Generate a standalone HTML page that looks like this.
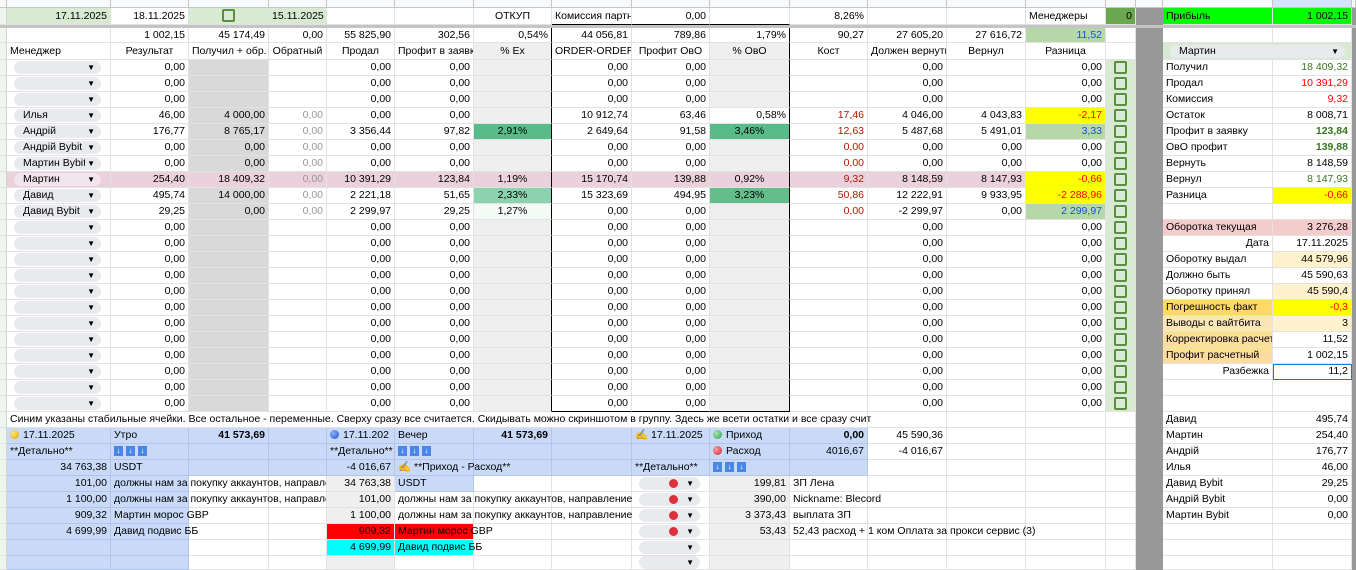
<!DOCTYPE html>
<html><head><meta charset="utf-8"><style>
*{box-sizing:border-box}
body{margin:0;width:1356px;height:564px;overflow:hidden;background:#fff;font-family:"Liberation Sans",Arial,sans-serif;font-size:10.5px;color:#000}
table{border-collapse:separate;border-spacing:0;table-layout:fixed;width:1356px}
td{border-right:1px solid #e2e2e2;border-bottom:1px solid #e2e2e2;padding:0 3px;white-space:nowrap;overflow:hidden;text-align:right;line-height:13px;position:relative}
tr.h td{height:16px}
td.ov{overflow:visible}
.ov>span.t,.t{position:relative;z-index:2}
.l{text-align:left}.c{text-align:center}
.g0{background:#eef5ee;border-right:1px solid #cfd8cf}
.g{background:#d9d9d9}.e{background:#efefef}.lg{background:#d9ead3}.pk{background:#ead1dc}
.b{background:#c9daf8;border-color:#b3c6ea}.y{background:#ffff00}.gg{background:#b6d7a8}
.gr{background:#999;border-color:#999}
.br{border-right:1px solid #000}.bb{border-bottom:1px solid #000}
.gy{color:#999}.rd{color:#a61c00}.red{color:#ff0000}.bl{color:#1155cc}.gn{color:#38761d}
.bold{font-weight:bold}
.ch{background:#e8eaed;border-radius:7px;height:13px;line-height:13px;margin:0 6px 0 4px;padding-left:9px;position:relative;text-align:left}
.ch i{position:absolute;right:6px;top:0;font-style:normal;font-size:8px;background:#e8eaed;padding-left:2px}
.pk .ch{background:#f1e4ea}.pk .ch i{background:#f1e4ea}
.cb{display:inline-block;width:13px;height:13px;border:2px solid #5b8f3f;border-radius:2px;vertical-align:middle}
.dot{display:inline-block;width:9px;height:9px;border-radius:50%;vertical-align:-1px;margin-right:4px}
.ar{display:inline-block;width:9px;height:10px;background:#4a86e8;color:#fff;font-size:8px;line-height:10px;text-align:center;margin-right:3px;vertical-align:middle}
.hd td{background:#f8f9fa;border-color:#c6c6c6}
.sep td{background:#c4c4c4;border:0;height:3px;font-size:0;line-height:0}
.or{background:#f9cb9c}.cr{background:#fff2cc}.pn{background:#f4cccc}
</style></head><body>
<table>
<colgroup><col style="width:7px"><col style="width:104px"><col style="width:78px"><col style="width:80px"><col style="width:58px"><col style="width:68px"><col style="width:79px"><col style="width:78px"><col style="width:80px"><col style="width:78px"><col style="width:80px"><col style="width:78px"><col style="width:79px"><col style="width:79px"><col style="width:80px"><col style="width:30px"><col style="width:27px"><col style="width:110px"><col style="width:79px"><col style="width:4px"></colgroup>
<tr class="hd" style="height:8px"><td></td><td></td><td></td><td></td><td></td><td></td><td></td><td></td><td></td><td></td><td></td><td></td><td></td><td></td><td></td><td></td><td></td><td></td><td style="background:#d3e3fd"></td><td></td></tr>
<tr style="height:17px"><td class="g0"></td><td class="lg">17.11.2025</td><td>18.11.2025</td><td class="lg c"><span class="cb"></span></td><td class="lg l">15.11.2025</td><td></td><td></td><td class="c">ОТКУП</td><td class="l bb">Комиссия партн</td><td class="bb">0,00</td><td class="bb"></td><td>8,26%</td><td></td><td></td><td class="l">Менеджеры</td><td style="background:#6aa84f">0</td><td class="gr"></td><td class="l" style="background:#00ff00">Прибыль</td><td style="background:#00ff00">1 002,15</td><td class="gr"></td></tr>
<tr class="sep"><td></td><td></td><td></td><td></td><td></td><td></td><td></td><td></td><td></td><td></td><td></td><td></td><td></td><td></td><td></td><td></td><td></td><td></td><td></td><td></td></tr>
<tr style="height:15px"><td class="g0"></td><td></td><td>1 002,15</td><td>45 174,49</td><td>0,00</td><td>55 825,90</td><td>302,56</td><td class="br">0,54%</td><td>44 056,81</td><td>789,86</td><td class="br">1,79%</td><td>90,27</td><td>27 605,20</td><td>27 616,72</td><td class="gg bl">11,52</td><td></td><td class="gr"></td><td></td><td></td><td class="gr"></td></tr>
<tr style="height:17px"><td class="g0"></td><td class="l">Менеджер</td><td class="c">Результат</td><td class="c">Получил + обр.</td><td class="c">Обратный</td><td class="c">Продал</td><td class="c">Профит в заявку</td><td class="c e br">% Ex</td><td class="c">ORDER-ORDER</td><td class="c">Профит ОвО</td><td class="c e br">% ОвО</td><td class="c">Кост</td><td class="c">Должен вернуть</td><td class="c">Вернул</td><td class="c">Разница</td><td></td><td class="gr"></td><td class="lg ov" style="padding:0 0 0 7px;border-right:0"><div class="ch t" style="width:175px;margin:0">Мартин<i>▼</i></div></td><td class="lg"></td><td class="gr"></td></tr>
<!-- data rows -->
<tr class="h"><td class="g0"></td><td><div class="ch"><i>▼</i></div></td><td>0,00</td><td class="g"></td><td></td><td>0,00</td><td>0,00</td><td class="e br"></td><td>0,00</td><td>0,00</td><td class="e br"></td><td></td><td>0,00</td><td></td><td>0,00</td><td class="lg c"><span class="cb"></span></td><td class="gr"></td><td class="l">Получил</td><td class="gn">18 409,32</td><td class="gr"></td></tr>
<tr class="h"><td class="g0"></td><td><div class="ch"><i>▼</i></div></td><td>0,00</td><td class="g"></td><td></td><td>0,00</td><td>0,00</td><td class="e br"></td><td>0,00</td><td>0,00</td><td class="e br"></td><td></td><td>0,00</td><td></td><td>0,00</td><td class="lg c"><span class="cb"></span></td><td class="gr"></td><td class="l">Продал</td><td class="red">10 391,29</td><td class="gr"></td></tr>
<tr class="h"><td class="g0"></td><td><div class="ch"><i>▼</i></div></td><td>0,00</td><td class="g"></td><td></td><td>0,00</td><td>0,00</td><td class="e br"></td><td>0,00</td><td>0,00</td><td class="e br"></td><td></td><td>0,00</td><td></td><td>0,00</td><td class="lg c"><span class="cb"></span></td><td class="gr"></td><td class="l">Комиссия</td><td class="red">9,32</td><td class="gr"></td></tr>
<tr class="h"><td class="g0"></td><td><div class="ch">Илья<i>▼</i></div></td><td>46,00</td><td class="g">4 000,00</td><td class="gy">0,00</td><td>0,00</td><td>0,00</td><td class="e br"></td><td>10 912,74</td><td>63,46</td><td class="br">0,58%</td><td class="rd">17,46</td><td>4 046,00</td><td>4 043,83</td><td class="y red">-2,17</td><td class="lg c"><span class="cb"></span></td><td class="gr"></td><td class="l">Остаток</td><td>8 008,71</td><td class="gr"></td></tr>
<tr class="h"><td class="g0"></td><td><div class="ch">Андрій<i>▼</i></div></td><td>176,77</td><td class="g">8 765,17</td><td class="gy">0,00</td><td>3 356,44</td><td>97,82</td><td class="c br" style="background:#57bb8a">2,91%</td><td>2 649,64</td><td>91,58</td><td class="c br" style="background:#57bb8a">3,46%</td><td class="rd">12,63</td><td>5 487,68</td><td>5 491,01</td><td class="gg bl">3,33</td><td class="lg c"><span class="cb"></span></td><td class="gr"></td><td class="l">Профит в заявку</td><td class="gn bold">123,84</td><td class="gr"></td></tr>
<tr class="h"><td class="g0"></td><td><div class="ch">Андрій Bybit<i>▼</i></div></td><td>0,00</td><td class="g">0,00</td><td class="gy">0,00</td><td>0,00</td><td>0,00</td><td class="e br"></td><td>0,00</td><td>0,00</td><td class="e br"></td><td class="rd">0,00</td><td>0,00</td><td>0,00</td><td>0,00</td><td class="lg c"><span class="cb"></span></td><td class="gr"></td><td class="l">ОвО профит</td><td class="gn bold">139,88</td><td class="gr"></td></tr>
<tr class="h"><td class="g0"></td><td><div class="ch">Мартин Bybit<i>▼</i></div></td><td>0,00</td><td class="g">0,00</td><td class="gy">0,00</td><td>0,00</td><td>0,00</td><td class="e br"></td><td>0,00</td><td>0,00</td><td class="e br"></td><td class="rd">0,00</td><td>0,00</td><td>0,00</td><td>0,00</td><td class="lg c"><span class="cb"></span></td><td class="gr"></td><td class="l">Вернуть</td><td>8 148,59</td><td class="gr"></td></tr>
<tr class="h"><td class="g0"></td><td class="pk"><div class="ch">Мартин<i>▼</i></div></td><td class="pk">254,40</td><td class="pk">18 409,32</td><td class="pk gy">0,00</td><td class="pk">10 391,29</td><td class="pk">123,84</td><td class="pk c br">1,19%</td><td class="pk">15 170,74</td><td class="pk">139,88</td><td class="pk c br">0,92%</td><td class="pk rd">9,32</td><td class="pk">8 148,59</td><td class="pk">8 147,93</td><td class="y red">-0,66</td><td class="lg c"><span class="cb"></span></td><td class="gr"></td><td class="l">Вернул</td><td class="gn">8 147,93</td><td class="gr"></td></tr>
<tr class="h"><td class="g0"></td><td><div class="ch">Давид<i>▼</i></div></td><td>495,74</td><td class="g">14 000,00</td><td class="gy">0,00</td><td>2 221,18</td><td>51,65</td><td class="c br" style="background:#8dd2ae">2,33%</td><td>15 323,69</td><td>494,95</td><td class="c br" style="background:#63be8b">3,23%</td><td class="rd">50,86</td><td>12 222,91</td><td>9 933,95</td><td class="y red">-2 288,96</td><td class="lg c"><span class="cb"></span></td><td class="gr"></td><td class="l">Разница</td><td class="y red">-0,66</td><td class="gr"></td></tr>
<tr class="h"><td class="g0"></td><td><div class="ch">Давид Bybit<i>▼</i></div></td><td>29,25</td><td class="g">0,00</td><td class="gy">0,00</td><td>2 299,97</td><td>29,25</td><td class="c br" style="background:#f4faf6">1,27%</td><td>0,00</td><td>0,00</td><td class="e br"></td><td class="rd">0,00</td><td>-2 299,97</td><td>0,00</td><td class="gg bl">2 299,97</td><td class="lg c"><span class="cb"></span></td><td class="gr"></td><td></td><td></td><td class="gr"></td></tr>
<tr class="h"><td class="g0"></td><td><div class="ch"><i>▼</i></div></td><td>0,00</td><td class="g"></td><td></td><td>0,00</td><td>0,00</td><td class="e br"></td><td>0,00</td><td>0,00</td><td class="e br"></td><td></td><td>0,00</td><td></td><td>0,00</td><td class="lg c"><span class="cb"></span></td><td class="gr"></td><td class="l pn">Оборотка текущая</td><td class="pn">3 276,28</td><td class="gr"></td></tr>
<tr class="h"><td class="g0"></td><td><div class="ch"><i>▼</i></div></td><td>0,00</td><td class="g"></td><td></td><td>0,00</td><td>0,00</td><td class="e br"></td><td>0,00</td><td>0,00</td><td class="e br"></td><td></td><td>0,00</td><td></td><td>0,00</td><td class="lg c"><span class="cb"></span></td><td class="gr"></td><td>Дата</td><td>17.11.2025</td><td class="gr"></td></tr>
<tr class="h"><td class="g0"></td><td><div class="ch"><i>▼</i></div></td><td>0,00</td><td class="g"></td><td></td><td>0,00</td><td>0,00</td><td class="e br"></td><td>0,00</td><td>0,00</td><td class="e br"></td><td></td><td>0,00</td><td></td><td>0,00</td><td class="lg c"><span class="cb"></span></td><td class="gr"></td><td class="l">Оборотку выдал</td><td class="cr">44 579,96</td><td class="gr"></td></tr>
<tr class="h"><td class="g0"></td><td><div class="ch"><i>▼</i></div></td><td>0,00</td><td class="g"></td><td></td><td>0,00</td><td>0,00</td><td class="e br"></td><td>0,00</td><td>0,00</td><td class="e br"></td><td></td><td>0,00</td><td></td><td>0,00</td><td class="lg c"><span class="cb"></span></td><td class="gr"></td><td class="l">Должно быть</td><td>45 590,63</td><td class="gr"></td></tr>
<tr class="h"><td class="g0"></td><td><div class="ch"><i>▼</i></div></td><td>0,00</td><td class="g"></td><td></td><td>0,00</td><td>0,00</td><td class="e br"></td><td>0,00</td><td>0,00</td><td class="e br"></td><td></td><td>0,00</td><td></td><td>0,00</td><td class="lg c"><span class="cb"></span></td><td class="gr"></td><td class="l">Оборотку принял</td><td class="cr">45 590,4</td><td class="gr"></td></tr>
<tr class="h"><td class="g0"></td><td><div class="ch"><i>▼</i></div></td><td>0,00</td><td class="g"></td><td></td><td>0,00</td><td>0,00</td><td class="e br"></td><td>0,00</td><td>0,00</td><td class="e br"></td><td></td><td>0,00</td><td></td><td>0,00</td><td class="lg c"><span class="cb"></span></td><td class="gr"></td><td class="l" style="background:#ffd966">Погрешность факт</td><td class="y red">-0,3</td><td class="gr"></td></tr>
<tr class="h"><td class="g0"></td><td><div class="ch"><i>▼</i></div></td><td>0,00</td><td class="g"></td><td></td><td>0,00</td><td>0,00</td><td class="e br"></td><td>0,00</td><td>0,00</td><td class="e br"></td><td></td><td>0,00</td><td></td><td>0,00</td><td class="lg c"><span class="cb"></span></td><td class="gr"></td><td class="l" style="background:#fce5b8">Выводы с вайтбита</td><td class="cr">3</td><td class="gr"></td></tr>
<tr class="h"><td class="g0"></td><td><div class="ch"><i>▼</i></div></td><td>0,00</td><td class="g"></td><td></td><td>0,00</td><td>0,00</td><td class="e br"></td><td>0,00</td><td>0,00</td><td class="e br"></td><td></td><td>0,00</td><td></td><td>0,00</td><td class="lg c"><span class="cb"></span></td><td class="gr"></td><td class="l" style="background:#fcdca0">Корректировка расчет</td><td>11,52</td><td class="gr"></td></tr>
<tr class="h"><td class="g0"></td><td><div class="ch"><i>▼</i></div></td><td>0,00</td><td class="g"></td><td></td><td>0,00</td><td>0,00</td><td class="e br"></td><td>0,00</td><td>0,00</td><td class="e br"></td><td></td><td>0,00</td><td></td><td>0,00</td><td class="lg c"><span class="cb"></span></td><td class="gr"></td><td class="l" style="background:#fcdca0">Профит расчетный</td><td>1 002,15</td><td class="gr"></td></tr>
<tr class="h"><td class="g0"></td><td><div class="ch"><i>▼</i></div></td><td>0,00</td><td class="g"></td><td></td><td>0,00</td><td>0,00</td><td class="e br"></td><td>0,00</td><td>0,00</td><td class="e br"></td><td></td><td>0,00</td><td></td><td>0,00</td><td class="lg c"><span class="cb"></span></td><td class="gr"></td><td>Разбежка</td><td style="outline:1px solid #1a73e8;outline-offset:-1px">11,2</td><td class="gr"></td></tr>
<tr class="h"><td class="g0"></td><td><div class="ch"><i>▼</i></div></td><td>0,00</td><td class="g"></td><td></td><td>0,00</td><td>0,00</td><td class="e br"></td><td>0,00</td><td>0,00</td><td class="e br"></td><td></td><td>0,00</td><td></td><td>0,00</td><td class="lg c"><span class="cb"></span></td><td class="gr"></td><td></td><td></td><td class="gr"></td></tr>
<tr class="h"><td class="g0"></td><td><div class="ch"><i>▼</i></div></td><td>0,00</td><td class="g"></td><td></td><td>0,00</td><td>0,00</td><td class="e br"></td><td class="bb">0,00</td><td class="bb">0,00</td><td class="e br bb"></td><td></td><td>0,00</td><td></td><td>0,00</td><td class="lg c"><span class="cb"></span></td><td class="gr"></td><td></td><td></td><td class="gr"></td></tr>
<!-- note row -->
<tr class="h"><td class="g0"></td><td class="l ov" style="border-right:0"><span class="t">Синим указаны стабильные ячейки. Все остальное - переменные. Сверху сразу все считается. Скидывать можно скриншотом в группу. Здесь же всети остатки и все сразу счит</span></td><td style="border-right:0"></td><td style="border-right:0"></td><td style="border-right:0"></td><td style="border-right:0"></td><td style="border-right:0"></td><td style="border-right:0"></td><td style="border-right:0"></td><td style="border-right:0"></td><td style="border-right:0"></td><td></td><td></td><td></td><td></td><td></td><td class="gr"></td><td class="l">Давид</td><td>495,74</td><td class="gr"></td></tr>
<!-- lower -->
<tr class="h"><td class="g0"></td><td class="b l"><span class="dot" style="background:radial-gradient(circle at 35% 35%,#ffe680,#e0a800)"></span>17.11.2025</td><td class="b l">Утро</td><td class="b bold">41 573,69</td><td class="b"></td><td class="b l"><span class="dot" style="background:radial-gradient(circle at 35% 35%,#8ab4f8,#1a56c8)"></span>17.11.202</td><td class="b l">Вечер</td><td class="b bold">41 573,69</td><td class="b"></td><td class="b l"><span style="color:#e69138">✍</span> 17.11.2025</td><td class="b l"><span class="dot" style="background:radial-gradient(circle at 35% 35%,#a8e6b0,#2e9e48)"></span>Приход</td><td class="b bold">0,00</td><td>45 590,36</td><td></td><td></td><td></td><td class="gr"></td><td class="l">Мартин</td><td>254,40</td><td class="gr"></td></tr>
<tr class="h"><td class="g0"></td><td class="b l">**Детально**</td><td class="b l"><span class="ar">↓</span><span class="ar">↓</span><span class="ar">↓</span></td><td class="b"></td><td class="b"></td><td class="b l">**Детально**</td><td class="b l"><span class="ar">↓</span><span class="ar">↓</span><span class="ar">↓</span></td><td class="b"></td><td class="b"></td><td class="b"></td><td class="b l"><span class="dot" style="background:radial-gradient(circle at 35% 35%,#f8a0a0,#d0202c)"></span>Расход</td><td class="b">4016,67</td><td>-4 016,67</td><td></td><td></td><td></td><td class="gr"></td><td class="l">Андрій</td><td>176,77</td><td class="gr"></td></tr>
<tr class="h"><td class="g0"></td><td class="b">34 763,38</td><td class="b l">USDT</td><td class="b"></td><td class="b"></td><td class="b">-4 016,67</td><td class="b l ov"><span class="t"><span style="color:#e69138">✍</span> **Приход - Расход**</span></td><td class="b"></td><td class="b"></td><td class="b l">**Детально**</td><td class="b l"><span class="ar">↓</span><span class="ar">↓</span><span class="ar">↓</span></td><td class="b"></td><td></td><td></td><td></td><td></td><td class="gr"></td><td class="l">Илья</td><td>46,00</td><td class="gr"></td></tr>
<tr class="h"><td class="g0"></td><td class="b">101,00</td><td class="b l ov"><div class="t" style="width:212px;overflow:hidden">должны нам за покупку аккаунтов, направление</div></td><td></td><td></td><td class="e">34 763,38</td><td class="b l">USDT</td><td></td><td></td><td><div class="ch"><span class="dot" style="position:absolute;right:18px;top:2px;background:#e0303c"></span><i>▼</i></div></td><td class="e">199,81</td><td class="l">ЗП Лена</td><td></td><td></td><td></td><td></td><td class="gr"></td><td class="l">Давид Bybit</td><td>29,25</td><td class="gr"></td></tr>
<tr class="h"><td class="g0"></td><td class="b">1 100,00</td><td class="b l ov"><div class="t" style="width:212px;overflow:hidden">должны нам за покупку аккаунтов, направление</div></td><td></td><td></td><td class="e">101,00</td><td class="l ov"><span class="t">должны нам за покупку аккаунтов, направление</span></td><td></td><td></td><td><div class="ch"><span class="dot" style="position:absolute;right:18px;top:2px;background:#e0303c"></span><i>▼</i></div></td><td class="e">390,00</td><td class="l ov"><span class="t">Nickname: Blecord</span></td><td></td><td></td><td></td><td></td><td class="gr"></td><td class="l">Андрій Bybit</td><td>0,00</td><td class="gr"></td></tr>
<tr class="h"><td class="g0"></td><td class="b">909,32</td><td class="b l ov"><span class="t">Мартин морос GBP</span></td><td></td><td></td><td class="e">1 100,00</td><td class="l ov"><span class="t">должны нам за покупку аккаунтов, направление</span></td><td></td><td></td><td><div class="ch"><span class="dot" style="position:absolute;right:18px;top:2px;background:#e0303c"></span><i>▼</i></div></td><td class="e">3 373,43</td><td class="l">выплата ЗП</td><td></td><td></td><td></td><td></td><td class="gr"></td><td class="l">Мартин Bybit</td><td>0,00</td><td class="gr"></td></tr>
<tr class="h"><td class="g0"></td><td class="b">4 699,99</td><td class="b l ov"><span class="t">Давид подвис ББ</span></td><td></td><td></td><td style="background:#ff0000">909,32</td><td class="l ov" style="background:#ff0000"><span class="t">Мартин морос GBP</span></td><td></td><td></td><td><div class="ch"><span class="dot" style="position:absolute;right:18px;top:2px;background:#e0303c"></span><i>▼</i></div></td><td class="e">53,43</td><td class="l ov"><span class="t">52,43 расход + 1 ком Оплата за прокси сервис (3)</span></td><td></td><td></td><td></td><td></td><td class="gr"></td><td></td><td></td><td class="gr"></td></tr>
<tr class="h"><td class="g0"></td><td class="b"></td><td class="b"></td><td></td><td></td><td style="background:#00ffff">4 699,99</td><td class="l ov" style="background:#00ffff"><span class="t">Давид подвис ББ</span></td><td></td><td></td><td><div class="ch"><i>▼</i></div></td><td class="e"></td><td></td><td></td><td></td><td></td><td></td><td class="gr"></td><td></td><td></td><td class="gr"></td></tr>
<tr style="height:8px"><td class="g0"></td><td class="b"></td><td class="b"></td><td></td><td></td><td class="e"></td><td></td><td></td><td></td><td><div class="ch"><i>▼</i></div></td><td class="e"></td><td></td><td></td><td></td><td></td><td></td><td class="gr"></td><td></td><td></td><td class="gr"></td></tr>
</table>
</body></html>
